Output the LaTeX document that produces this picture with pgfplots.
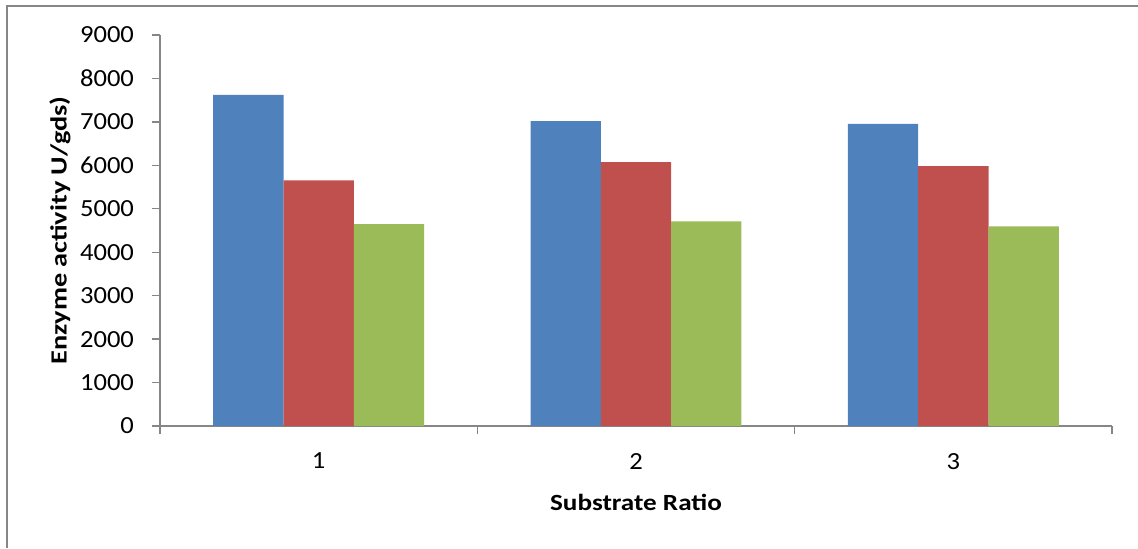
\documentclass[border=0pt]{standalone}
\usepackage{fontspec}
\setmainfont{Carlito}
\newfontfamily\tickfont[FakeStretch=1.08]{Carlito}
\newfontfamily\ylabfont[FakeStretch=1.22]{Carlito}
\newfontfamily\xlabfont[FakeStretch=1.17]{Carlito}
\usepackage{pgfplots}
\pgfplotsset{compat=1.18}
\definecolor{cblue}{HTML}{4F81BD}
\definecolor{cred}{HTML}{C0504D}
\definecolor{cgreen}{HTML}{9BBB59}
\definecolor{axgray}{HTML}{868686}
\begin{document}
\begin{tikzpicture}
\useasboundingbox (0,0) rectangle (569pt,274pt);
\draw[axgray, line width=1pt] (3.5pt,0) -- (3.5pt,271pt) -- (569pt,271pt);
\begin{axis}[
  at={(80pt,61pt)}, anchor=south west,
  scale only axis, width=476pt, height=195.5pt,
  xmin=0.5, xmax=3.5, ymin=0, ymax=9000,
  ybar=0pt, bar width=0.2216,
  axis x line*=bottom, axis y line*=left,
  axis line style={axgray, line width=0.7pt, -},
  tick style={axgray, line width=0.7pt},
  tick align=outside, major tick length=4pt,
  ytick={0,1000,...,9000},
  xtick={0.5,1.5,2.5,3.5}, xticklabels={},
  extra x ticks={1,2,3}, extra x tick labels={1,2,3},
  extra x tick style={major tick length=0pt, xticklabel style={yshift=-10pt}},
  /pgf/number format/assume math mode=true,
  /pgf/number format/1000 sep={},
  ticklabel style={font=\tickfont\fontsize{12.3}{14}\selectfont, text=black},
  yticklabel style={xshift=-5.5pt},
  xlabel={\textbf{Substrate Ratio}},
  ylabel={\textbf{Enzyme activity U/gds)}},
  xlabel style={font=\xlabfont\fontsize{11.6}{13}\selectfont, at={(axis description cs:0.5,0)}, anchor=center, yshift=-38pt},
  every axis y label/.style={font=\ylabfont\fontsize{11.6}{13}\selectfont, at={(axis description cs:0,0.5)}, anchor=center, rotate=90, yshift=50pt},
]
\addplot[fill=cblue, draw=none] coordinates {(1,7620) (2,7020) (3,6955)};
\addplot[fill=cred, draw=none] coordinates {(1,5656) (2,6077) (3,5985)};
\addplot[fill=cgreen, draw=none] coordinates {(1,4650) (2,4712) (3,4597)};
\end{axis}
\end{tikzpicture}
\end{document}
